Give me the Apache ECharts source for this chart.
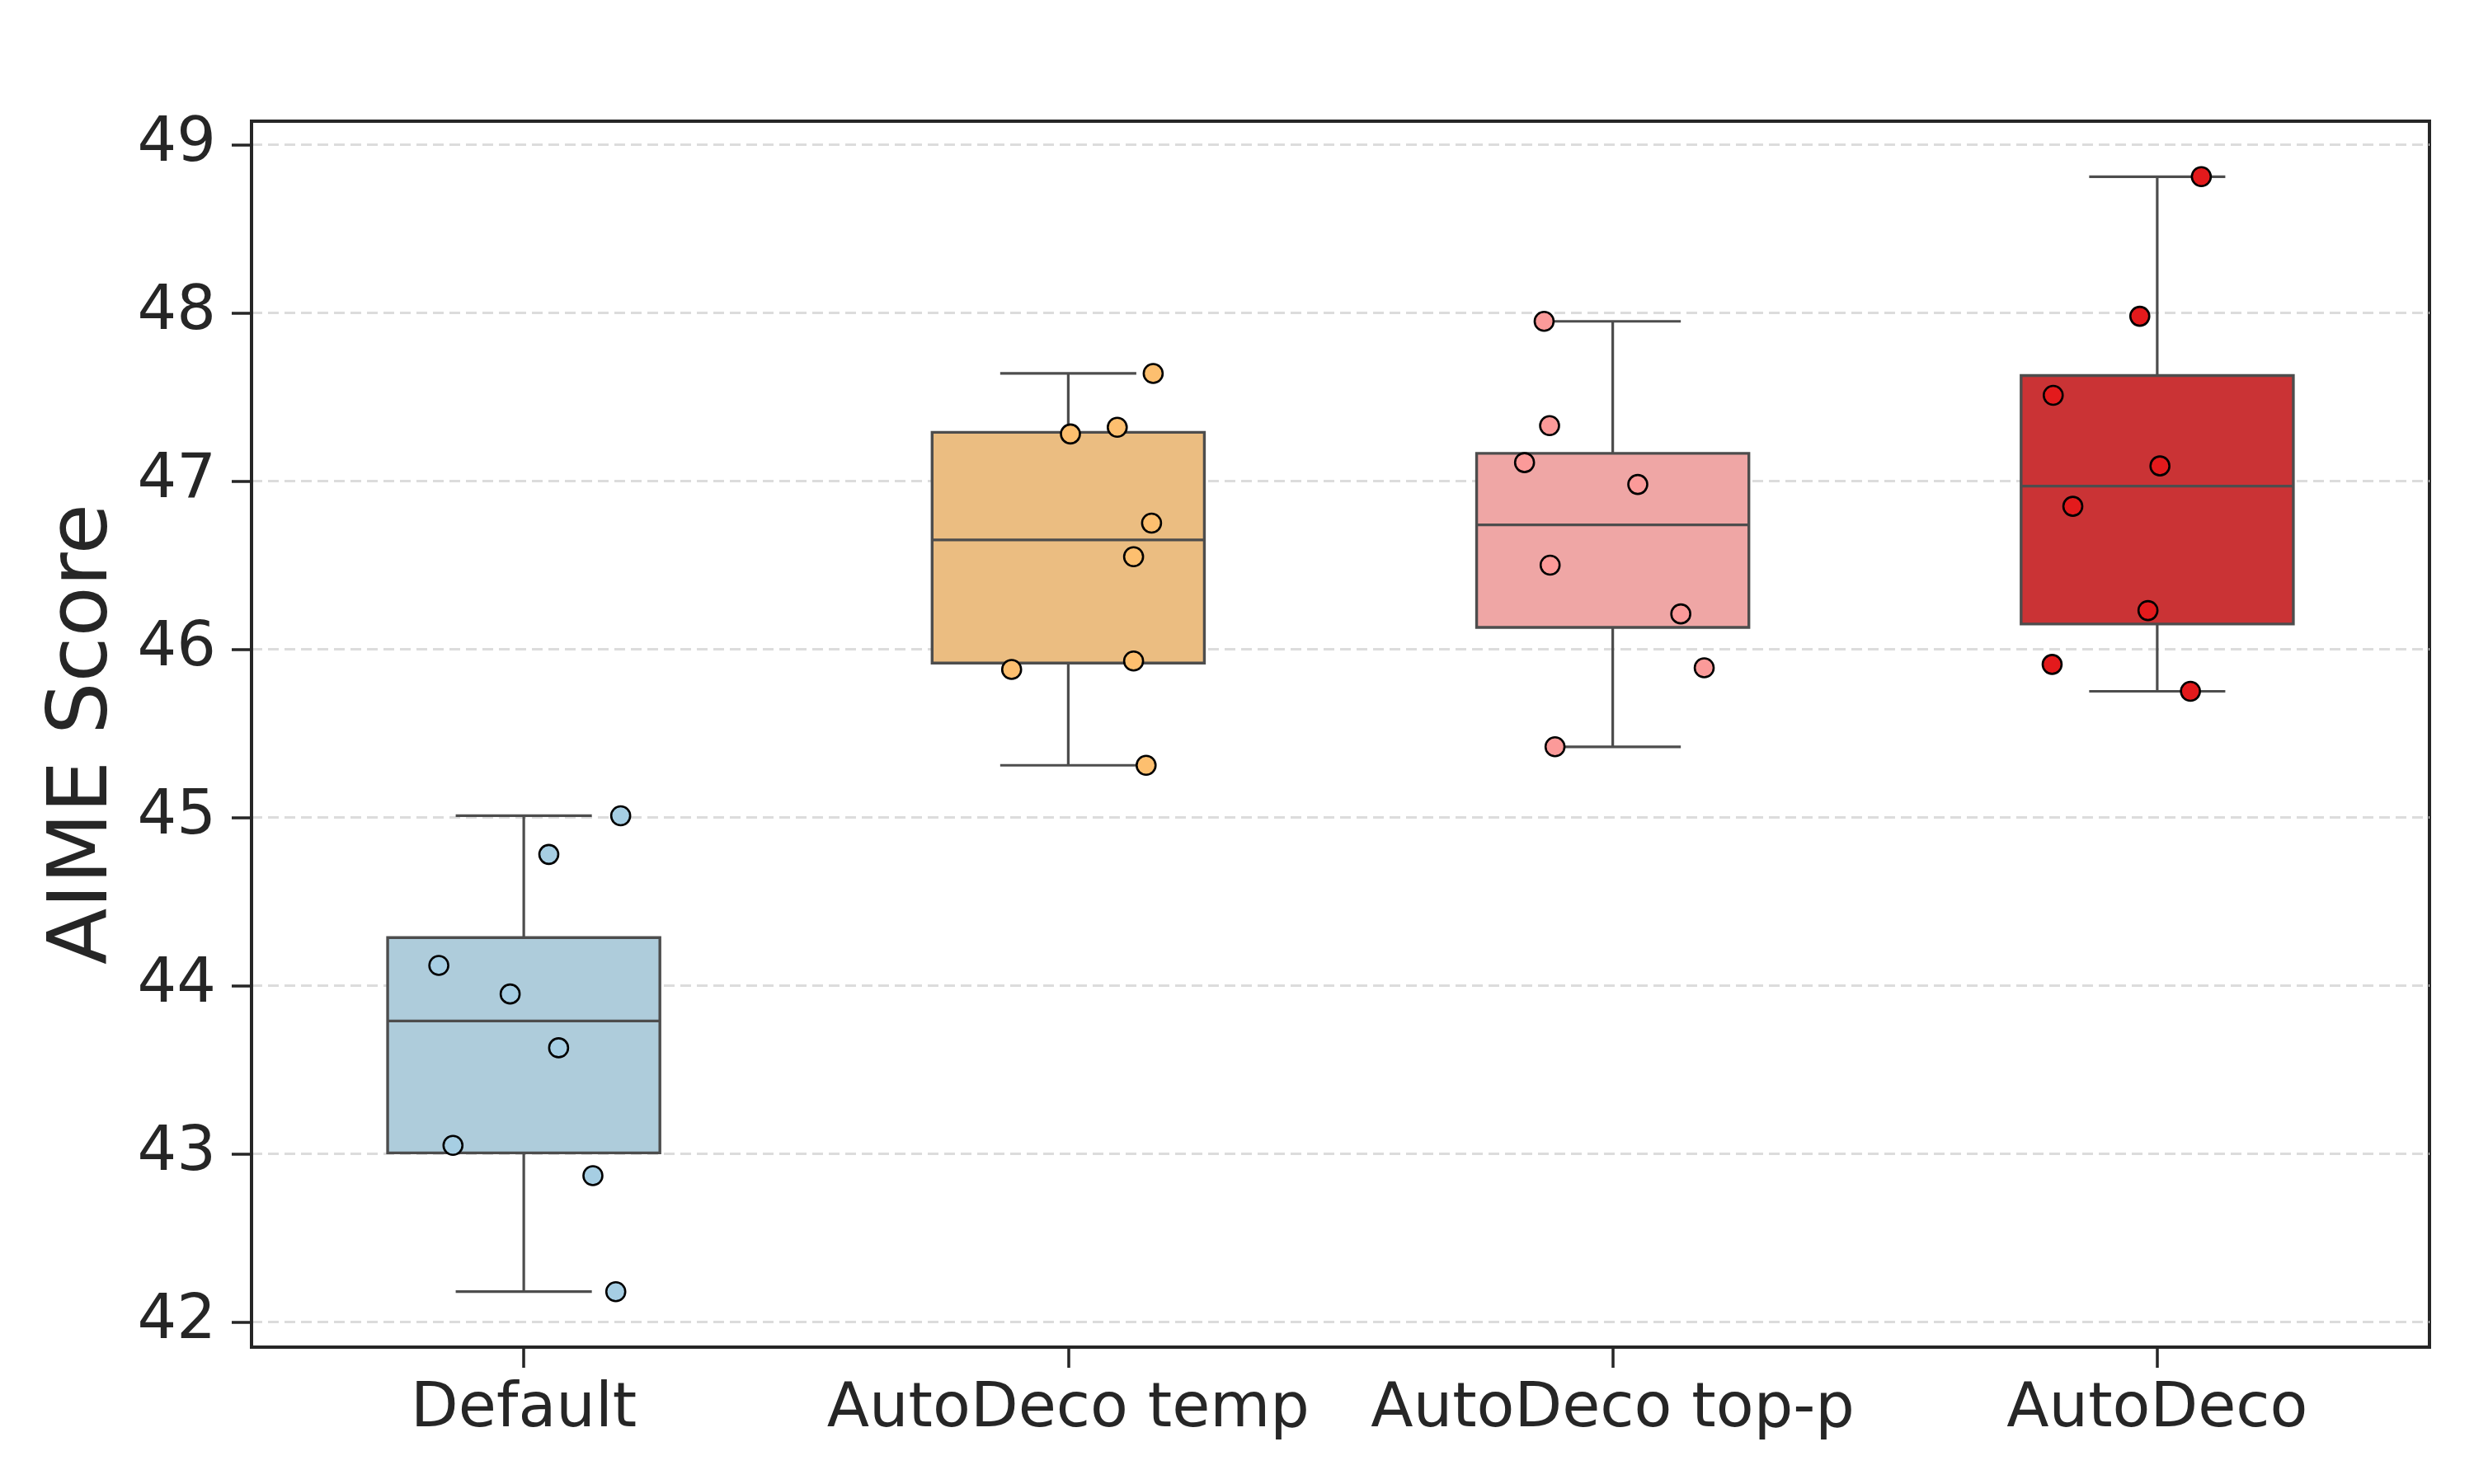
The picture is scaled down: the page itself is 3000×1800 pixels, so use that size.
<!DOCTYPE html>
<html><head><meta charset="utf-8">
<script src="https://cdn.jsdelivr.net/npm/echarts@6/dist/echarts.min.js"></script>
<style>html,body{margin:0;padding:0;background:#fff}#chart{width:3000px;height:1800px}</style>
</head><body><div id="chart"></div>
<script>
var categories = ['Default', 'AutoDeco temp', 'AutoDeco top-p', 'AutoDeco'];

var defaultScores = [45.01, 44.78, 44.12, 43.95, 43.63, 43.05, 42.87, 42.18];
var defaultJitter = [0.178, 0.046, -0.156, -0.025, 0.064, -0.130, 0.127, 0.169];
var tempScores = [47.64, 47.28, 47.32, 46.75, 46.55, 45.88, 45.93, 45.31];
var tempJitter = [0.156, 0.004, 0.090, 0.153, 0.120, -0.104, 0.120, 0.143];
var toppScores = [47.95, 47.33, 47.11, 46.98, 46.50, 46.21, 45.89, 45.42];
var toppJitter = [-0.126, -0.116, -0.162, 0.046, -0.115, 0.125, 0.168, -0.106];
var autoScores = [48.81, 47.98, 47.51, 47.09, 46.85, 46.23, 45.91, 45.75];
var autoJitter = [0.081, -0.032, -0.191, 0.005, -0.155, -0.017, -0.193, 0.061];

var yTicks = [42, 43, 44, 45, 46, 47, 48, 49];
var yMin = 41.85, yMax = 49.14;

var boxColors = ['#aeccdb', '#ebbd81', '#efa6a5', '#ca3335'];
var pointColors = ['#a6cee3', '#fdbf6f', '#fb9a99', '#e31a1c'];
var EDGE = '#4d4d4d';
var INK = '#262626';
var FONT = 'DejaVu Sans';

var groups = [
  [defaultScores, defaultJitter],
  [tempScores, tempJitter],
  [toppScores, toppJitter],
  [autoScores, autoJitter]
];

function quantile(sorted, p) {
  var pos = (sorted.length - 1) * p;
  var lo = Math.floor(pos), hi = Math.ceil(pos);
  return sorted[lo] + (sorted[hi] - sorted[lo]) * (pos - lo);
}

var boxData = groups.map(function (g, i) {
  var s = g[0].slice().sort(function (a, b) { return a - b; });
  var q1 = quantile(s, 0.25), med = quantile(s, 0.5), q3 = quantile(s, 0.75);
  var iqr = q3 - q1;
  var inside = s.filter(function (v) { return v >= q1 - 1.5 * iqr && v <= q3 + 1.5 * iqr; });
  return [i, inside[0], q1, med, q3, inside[inside.length - 1]];
});

var scatterSeries = groups.map(function (g, i) {
  return {
    type: 'scatter',
    xAxisIndex: 1,
    z: 5,
    symbol: 'circle',
    symbolSize: 23,
    itemStyle: { color: pointColors[i], borderColor: '#000', borderWidth: 2.6, opacity: 1 },
    data: g[0].map(function (v, j) { return [i + g[1][j], v]; })
  };
});

var chart = echarts.init(document.getElementById('chart'), null, { renderer: 'canvas' });
chart.setOption({
  backgroundColor: '#fff',
  animation: false,
  grid: { left: 305, right: 54, top: 147, bottom: 166, show: true, borderColor: INK, borderWidth: 4, backgroundColor: 'transparent' },
  xAxis: [{
    type: 'category',
    data: categories,
    boundaryGap: true,
    axisLine: { show: true, onZero: false, lineStyle: { color: INK, width: 4 } },
    axisTick: { show: true, alignWithLabel: true, interval: 0, length: 25, lineStyle: { color: INK, width: 3.5 } },
    axisLabel: { color: INK, fontSize: 75, fontFamily: FONT, margin: 39, interval: 0 },
    splitLine: { show: false }
  }, {
    type: 'value',
    min: -0.5, max: 3.5,
    show: false,
    axisLine: { onZero: false },
    splitLine: { show: false }
  }],
  yAxis: {
    type: 'value',
    min: yMin, max: yMax,
    splitNumber: 7,
    name: 'AIME Score',
    nameLocation: 'middle',
    nameGap: 152,
    nameTextStyle: { color: INK, fontSize: 100, fontFamily: FONT },
    axisLine: { show: true, onZero: false, lineStyle: { color: INK, width: 4 } },
    axisTick: { show: true, length: 24, customValues: yTicks, lineStyle: { color: INK, width: 3.5 } },
    axisLabel: { color: INK, fontSize: 75, fontFamily: FONT, margin: 43, customValues: yTicks },
    splitLine: { show: true, lineStyle: { color: '#dcdcdc', width: 3, type: [13, 7] } }
  },
  series: [{
    type: 'custom',
    xAxisIndex: 1,
    z: 3,
    data: boxData,
    renderItem: function (params, api) {
      var i = api.value(0);
      var pLo = api.coord([i, api.value(1)]);
      var pQ1 = api.coord([i, api.value(2)]);
      var pMed = api.coord([i, api.value(3)]);
      var pQ3 = api.coord([i, api.value(4)]);
      var pHi = api.coord([i, api.value(5)]);
      var band = api.size([1, 0])[0];
      var bw = band * 0.5, cw = band * 0.25;
      var cx = pMed[0];
      var ls = { stroke: EDGE, lineWidth: 3.2, fill: null };
      return {
        type: 'group',
        children: [
          { type: 'line', shape: { x1: cx, y1: pQ3[1], x2: cx, y2: pHi[1] }, style: ls },
          { type: 'line', shape: { x1: cx, y1: pQ1[1], x2: cx, y2: pLo[1] }, style: ls },
          { type: 'line', shape: { x1: cx - cw / 2, y1: pHi[1], x2: cx + cw / 2, y2: pHi[1] }, style: ls },
          { type: 'line', shape: { x1: cx - cw / 2, y1: pLo[1], x2: cx + cw / 2, y2: pLo[1] }, style: ls },
          { type: 'rect', shape: { x: cx - bw / 2, y: pQ3[1], width: bw, height: pQ1[1] - pQ3[1] },
            style: { fill: boxColors[i], stroke: EDGE, lineWidth: 3.4 } },
          { type: 'line', shape: { x1: cx - bw / 2, y1: pMed[1], x2: cx + bw / 2, y2: pMed[1] }, style: ls }
        ]
      };
    }
  }].concat(scatterSeries)
});
</script></body></html>
